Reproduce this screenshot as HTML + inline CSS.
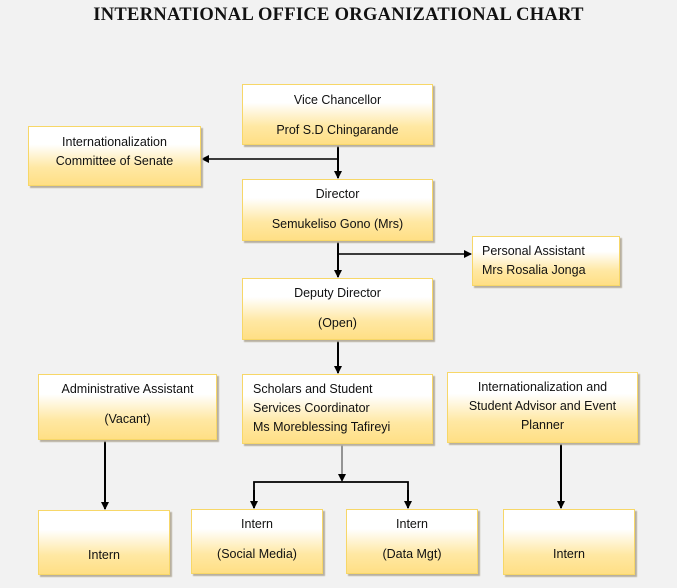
<!DOCTYPE html>
<html><head><meta charset="utf-8"><style>
html,body{margin:0;padding:0}
body{width:677px;height:588px;background:#f2f2f2;position:relative;overflow:hidden;font-family:"Liberation Sans",sans-serif;color:#111}
.t{position:absolute;left:0;width:677px;top:5px;text-align:center;font-family:"Liberation Serif",serif;font-weight:bold;font-size:18.5px;letter-spacing:0.3px}
.b{position:absolute;box-sizing:border-box;border:1px solid #f7d768;background:linear-gradient(to bottom,#fff 0%,#fff 30%,#ffe8a3 70%,#ffdf85 100%);box-shadow:2px 2px 1px #b8b0a0;font-size:12.5px;text-align:center;line-height:19px}
svg{position:absolute;left:0;top:0}
</style></head><body>
<div class="t">INTERNATIONAL OFFICE ORGANIZATIONAL CHART</div>
<svg width="677" height="588">
<defs><marker id="a" markerWidth="8" markerHeight="8" refX="7" refY="4" orient="auto" markerUnits="userSpaceOnUse"><path d="M0,0 L8,4 L0,8z" fill="#000"/></marker></defs>
<g stroke="#000" stroke-width="1.5" fill="none">
<line x1="338" y1="145" x2="338" y2="178" stroke-width="2" marker-end="url(#a)"/>
<line x1="338" y1="159" x2="202" y2="159" marker-end="url(#a)"/>
<line x1="338" y1="241" x2="338" y2="277" stroke-width="2" marker-end="url(#a)"/>
<line x1="338" y1="254" x2="471" y2="254" marker-end="url(#a)"/>
<line x1="338" y1="340" x2="338" y2="373" stroke-width="2" marker-end="url(#a)"/>
<line x1="342" y1="444" x2="342" y2="481" stroke="#555" stroke-width="1.2" marker-end="url(#a)"/>
<polyline points="254,508 254,482 408,482 408,508" stroke-width="1.8"/>
<line x1="254" y1="490" x2="254" y2="508" stroke-width="2" marker-end="url(#a)"/>
<line x1="408" y1="490" x2="408" y2="508" stroke-width="2" marker-end="url(#a)"/>
<line x1="105" y1="441" x2="105" y2="509" stroke-width="2" marker-end="url(#a)"/>
<line x1="561" y1="444" x2="561" y2="508" stroke-width="2" marker-end="url(#a)"/>
</g></svg>
<div class="b" style="left:242px;top:84px;width:191px;height:61px;padding-top:6px">Vice Chancellor<br><div style="height:11px"></div>Prof S.D Chingarande</div>
<div class="b" style="left:28px;top:126px;width:173px;height:60px;padding-top:6px">Internationalization<br>Committee of Senate</div>
<div class="b" style="left:242px;top:179px;width:191px;height:62px;padding-top:5px">Director<br><div style="height:11px"></div>Semukeliso Gono (Mrs)</div>
<div class="b" style="left:472px;top:236px;width:148px;height:50px;padding-top:5px;text-align:left;padding-left:9px">Personal Assistant<br>Mrs Rosalia Jonga</div>
<div class="b" style="left:242px;top:278px;width:191px;height:62px;padding-top:5px">Deputy Director<br><div style="height:11px"></div>(Open)</div>
<div class="b" style="left:38px;top:374px;width:179px;height:66px;padding-top:5px">Administrative Assistant<br><div style="height:11px"></div>(Vacant)</div>
<div class="b" style="left:242px;top:374px;width:191px;height:70px;padding-top:5px;text-align:left;padding-left:10px">Scholars and Student<br>Services Coordinator<br>Ms Moreblessing Tafireyi</div>
<div class="b" style="left:447px;top:372px;width:191px;height:71px;padding-top:5px">Internationalization and<br>Student Advisor and Event<br>Planner</div>
<div class="b" style="left:38px;top:510px;width:132px;height:65px;padding-top:35px">Intern</div>
<div class="b" style="left:191px;top:509px;width:132px;height:65px;padding-top:5px">Intern<br><div style="height:11px"></div>(Social Media)</div>
<div class="b" style="left:346px;top:509px;width:132px;height:65px;padding-top:5px">Intern<br><div style="height:11px"></div>(Data Mgt)</div>
<div class="b" style="left:503px;top:509px;width:132px;height:66px;padding-top:35px">Intern</div>
</body></html>
